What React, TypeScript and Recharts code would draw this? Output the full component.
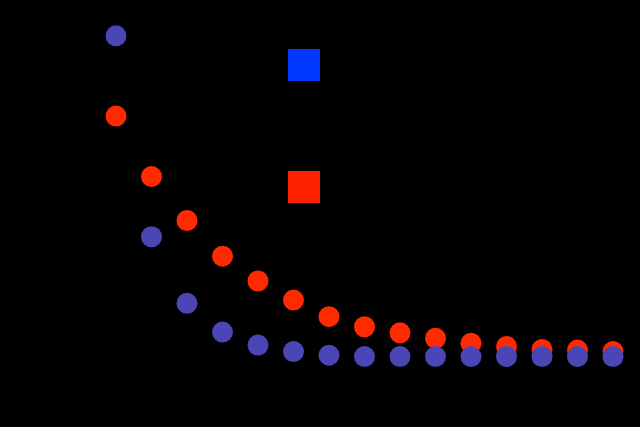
import { ScatterChart, Scatter, XAxis, YAxis } from 'recharts';

const steps = [1, 2, 3, 4, 5, 6, 7, 8, 9, 10, 11, 12, 13, 14, 15];
const blueValues = [95.6, 39.8, 21.3, 13.3, 9.7, 7.9, 6.9, 6.5, 6.5, 6.5, 6.5, 6.5, 6.5, 6.5, 6.5];
const redValues = [73.3, 56.5, 44.3, 34.4, 27.5, 22.2, 17.6, 14.8, 13.1, 11.6, 10.2, 9.3, 8.5, 8.3, 7.9];

const seriesNames = ['Blue', 'Red'];
const legendColors = ['#0037ff', '#ff2200'];

const blueData = steps.map((x, i) => ({ x, y: blueValues[i] }));
const redData = steps.map((x, i) => ({ x, y: redValues[i] }));

const dot = (fill: string) => (props: { cx?: number; cy?: number }) => (
  <circle cx={props.cx} cy={props.cy} r={10.5} fill={fill} />
);

// legend is just two coloured squares, no visible labels
const SquareLegend = () => (
  <div style={{ position: 'absolute', left: 288, top: 49, display: 'flex', flexDirection: 'column', gap: 90 }}>
    {seriesNames.map((name, i) => (
      <div key={name} style={{ width: 32, height: 32, background: legendColors[i] }} />
    ))}
  </div>
);

export default function App() {
  return (
    <div style={{ position: 'fixed', inset: 0, background: '#000' }}>
      <ScatterChart width={640} height={427} margin={{ top: 20, right: 27, left: 116, bottom: 47 }}>
        <XAxis type="number" dataKey="x" domain={[1, 15]} hide />
        <YAxis type="number" dataKey="y" domain={[0, 100]} hide />
        <Scatter name="Red" data={redData} shape={dot('#ff2a00')} isAnimationActive={false} />
        <Scatter name="Blue" data={blueData} shape={dot('#4a46b6')} isAnimationActive={false} />
      </ScatterChart>
      <SquareLegend />
    </div>
  );
}
